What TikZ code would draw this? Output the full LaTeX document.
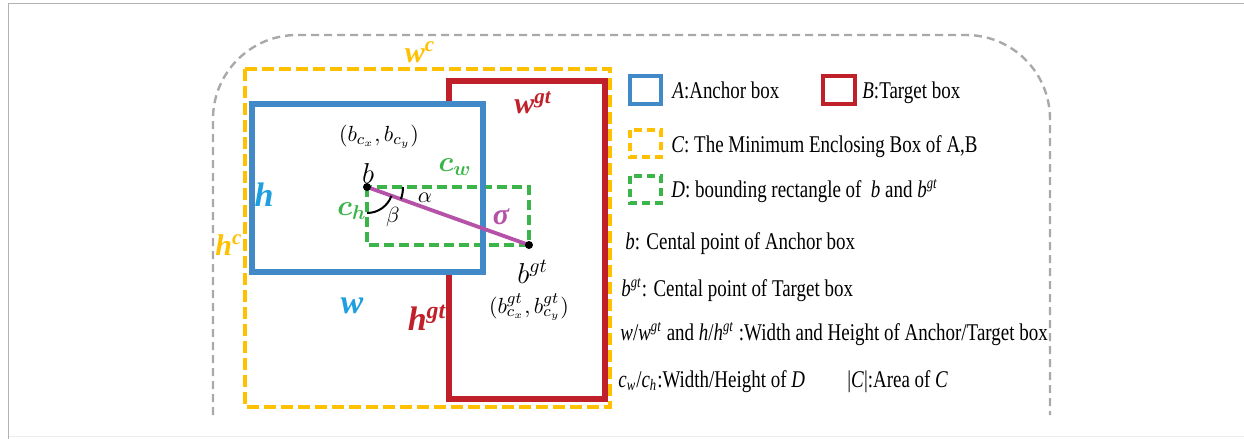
\documentclass[tikz,border=0pt]{standalone}
\usepackage{amsmath}
\usepackage{fontspec}
\setmainfont{Liberation Serif}
\newfontfamily\leg{Liberation Serif}[FakeStretch=0.79]
\usetikzlibrary{calc}
\definecolor{cblue}{HTML}{4189C7}
\definecolor{lblue}{HTML}{1E9FE0}
\definecolor{cred}{HTML}{C0202A}
\definecolor{cyel}{HTML}{FFC000}
\definecolor{cgreen}{HTML}{3BB54A}
\definecolor{cpurp}{HTML}{B552A8}
\definecolor{cgray}{HTML}{A9A9A9}
\begin{document}
\begin{tikzpicture}[x=0.5pt,y=-0.5pt,
  boxA/.style={draw=cblue,line width=2.6pt},
  boxB/.style={draw=cred,line width=2.6pt},
  boxC/.style={draw=cyel,line width=2pt,dash pattern=on 6pt off 2.5pt},
  boxD/.style={draw=cgreen,line width=2pt,dash pattern=on 5pt off 2.5pt},
  iconA/.style={draw=cblue,line width=2pt},
  iconB/.style={draw=cred,line width=2pt},
  iconC/.style={draw=cyel,line width=2pt,dash pattern=on 4pt off 2.5pt},
  iconD/.style={draw=cgreen,line width=2pt,dash pattern=on 4pt off 2.5pt},
  lbl/.style={inner sep=0pt,font=\fontsize{17}{17}\selectfont\bfseries\itshape},
  slbl/.style={inner sep=0pt,font=\fontsize{15}{15}\selectfont\bfseries\itshape},
  mlbl/.style={inner sep=0pt,font=\fontsize{11}{11}\selectfont},
  legtext/.style={anchor=base west,inner sep=0pt,font=\leg\fontsize{12}{14}\selectfont},
  frame/.style={draw=cgray,line width=1.2pt,dash pattern=on 4pt off 2.5pt,rounded corners=42pt}
]
\useasboundingbox (0,0) rectangle (1244,439);
% outer frame
\draw[black!30,line width=0.8pt] (8.5,440) -- (8.5,3.5) -- (1244,3.5);
\draw[black!8,line width=0.8pt] (8.5,436.5) -- (1244,436.5);
% gray rounded dashed frame
\draw[frame] (213,415) -- (213,35) -- (1050,35) -- (1050,415);

% boxes
\draw[boxC] (245,69) rectangle (610,407);
\draw[boxB] (449,81) rectangle (605,399);
\fill[white] (252,104) rectangle (483,272);
\draw[boxD] (367,187) rectangle (529,245);
\draw[boxA] (252,104) rectangle (483,272);

\coordinate (b) at (367,187);
\coordinate (bgt) at (529,245);
\draw[cpurp,line width=1.9pt] (b) -- (bgt);
\fill (b) circle[radius=4];
\fill (bgt) circle[radius=4];
\draw[line width=1pt] ($(b)+(36,0)$) arc[start angle=0,end angle=19.7,radius=36];
\draw[line width=1pt] ($(b)+(19.7:26)$) arc[start angle=19.7,end angle=90,radius=26];

% diagram labels
\node[slbl,text=cyel] (wc) at (420,52) {w\textsuperscript{c}};
\node[slbl,text=cyel] (hc) at (229,245) {h\textsuperscript{c}};
\node[slbl,text=cred] (wgt) at (533,103) {w\textsuperscript{gt}};
\node[lbl,text=cred] (hgt) at (427,318) {h\textsuperscript{gt}};
\node[lbl,text=lblue] (hA) at (264,195) {h};
\node[lbl,text=lblue] (wA) at (352,306) {w};
\node[slbl,text=cpurp] (sig) at (501,217) {σ};
\node[mlbl] (bxy) at (379,137) {$(b_{c_x},b_{c_y})$};
\node[inner sep=0pt,font=\fontsize{14}{14}\selectfont,anchor=base] (blab) at (368,183) {$b$};
\node[inner sep=0pt,font=\fontsize{14}{14}\selectfont,anchor=base west] (bgtlab) at (517,283) {$b^{gt}$};
\node[mlbl] (bgtxy) at (529,307) {$(b^{gt}_{c_x},b^{gt}_{c_y})$};
\node[inner sep=0pt,font=\fontsize{14}{14}\selectfont,text=cgreen] (cw) at (455,167) {$\boldsymbol{c_w}$};
\node[inner sep=0pt,font=\fontsize{14}{14}\selectfont,text=cgreen] (ch) at (352,211) {$\boldsymbol{c_h}$};
\node[inner sep=0pt,font=\fontsize{11}{11}\selectfont] (alpha) at (425,198) {$\alpha$};
\node[inner sep=0pt,font=\fontsize{11}{11}\selectfont] (beta) at (393,217) {$\beta$};

% legend icons
\draw[iconA] (630,76) rectangle (661,104);
\draw[iconB] (823,76) rectangle (855,104);
\draw[iconC] (630,130) rectangle (661,157);
\draw[iconD] (630,176) rectangle (661,203);

% legend text
\node[legtext] (lA) at (672,98) {\textit{A}:Anchor box};
\node[legtext] (lB) at (862,98) {\textit{B}:Target box};
\node[legtext] (lC) at (671,152) {\textit{C}: The Minimum Enclosing Box of A,B};
\node[legtext] (lD) at (671,197) {\textit{D}: bounding rectangle of \ \textit{b} and \textit{b}\textsuperscript{\textit{gt}}};
\node[legtext] (lb) at (625,249) {\textit{b}: Cental point of Anchor box};
\node[legtext] (lbgt) at (621,296) {\textit{b}\textsuperscript{\textit{gt}}: Cental point of Target box};
\node[legtext] (lwh) at (620,340) {\textit{w}/\textit{w}\textsuperscript{\textit{gt}} and \textit{h}/\textit{h}\textsuperscript{\textit{gt}} :Width and Height of Anchor/Target box};
\node[legtext] (lc) at (618,387) {\textit{c}\textsubscript{\textit{w}}/\textit{c}\textsubscript{\textit{h}}:Width/Height of \textit{D}};
\node[legtext] (larea) at (847,387) {|\textit{C}|:Area of \textit{C}};
\end{tikzpicture}
\end{document}
